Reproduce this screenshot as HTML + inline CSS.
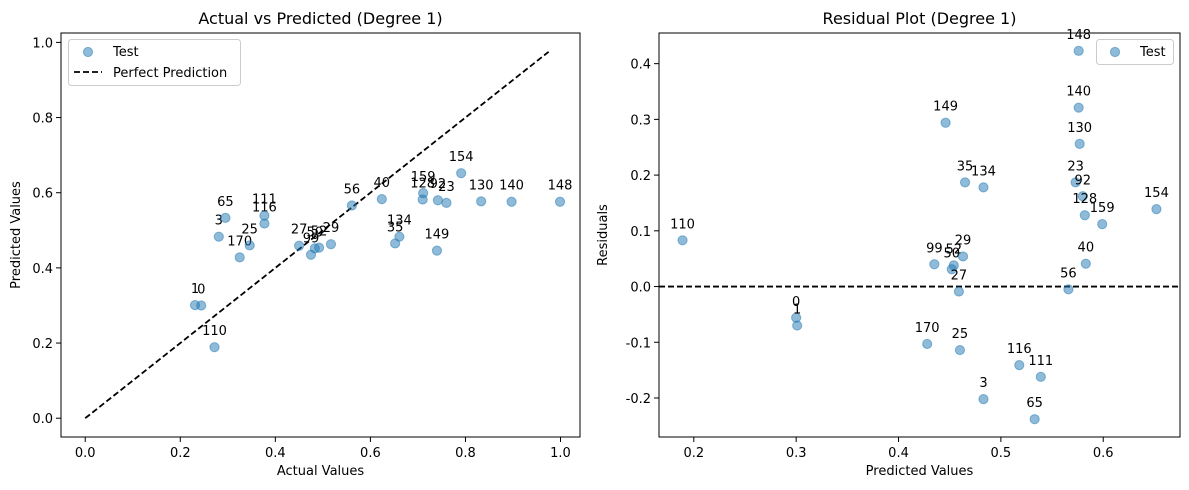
<!DOCTYPE html>
<html><head><meta charset="utf-8"><style>
body{margin:0;background:#fff;}
svg{display:block;font-family:"DejaVu Sans","Liberation Sans",sans-serif;}
</style></head><body>
<svg id="c" width="1189" height="490"></svg>
<script>
const ids=[148,140,130,149,35,134,23,92,128,159,154,99,52,50,29,40,27,56,170,25,116,111,3,65,110,0,1];
const predicted=[.576,.576,.577,.446,.465,.483,.573,.580,.582,.599,.652,.435,.454,.452,.463,.583,.459,.566,.428,.460,.518,.539,.483,.533,.189,.300,.301];
const actual=[.999,.897,.833,.740,.652,.661,.760,.742,.710,.711,.791,.475,.492,.483,.517,.624,.450,.561,.325,.346,.377,.377,.281,.295,.272,.244,.231];
const leftXTicks=[0,0.2,0.4,0.6,0.8,1.0];
const leftYTicks=[0,0.2,0.4,0.6,0.8,1.0];
const rightXTicks=[0.2,0.3,0.4,0.5,0.6];
const rightYTicks=[-0.2,-0.1,0,0.1,0.2,0.3,0.4];
const lineMax=0.975;

const svg=document.getElementById('c');
const NS='http://www.w3.org/2000/svg';
function mk(tag,at,parent){const e=document.createElementNS(NS,tag);for(const k in at)e.setAttribute(k,at[k]);(parent||svg).appendChild(e);return e;}
function lin(d0,d1,r0,r1){return v=>r0+(v-d0)*(r1-r0)/(d1-d0);}

function axes(prefix,L,R,T,B,xd,yd,xt,yt,xfmt,yfmt,title,xl,yl,ylx){
  const g=mk('g',{});
  
  
  const x=lin(xd[0],xd[1],L,R),y=lin(yd[0],yd[1],B,T);
  xt.forEach(v=>{const px=x(v);
    const t=mk('line',{x1:px,x2:px,y1:B,y2:B+5,stroke:'#000','stroke-width':1},g);
    
    const l=mk('text',{x:px,y:B+20,'text-anchor':'middle','font-size':13},g);l.textContent=xfmt(v);
    });
  yt.forEach(v=>{const py=y(v);
    const t=mk('line',{x1:L-5,x2:L,y1:py,y2:py,stroke:'#000','stroke-width':1},g);
    
    const l=mk('text',{x:L-8,y:py+5,'text-anchor':'end','font-size':13},g);l.textContent=yfmt(v);
    });
  const tt=mk('text',{x:(L+R)/2,y:T-9,'text-anchor':'middle','font-size':16},g);tt.textContent=title;
  
  const xa=mk('text',{x:(L+R)/2,y:B+38,'text-anchor':'middle','font-size':13},g);xa.textContent=xl;
  
  const ya=mk('text',{x:ylx,y:(T+B)/2,'text-anchor':'middle','font-size':13,transform:`rotate(-90 ${ylx} ${(T+B)/2})`},g);ya.textContent=yl;
  
  return {x,y,g};
}
function frame(L,R,T,B,name){const f=mk('rect',{x:L,y:T,width:R-L,height:B-T,fill:'none',stroke:'#000','stroke-width':1});
  }
function pts(a,xs,ys,prefix){
  xs.forEach((xv,i)=>{const cx=a.x(xv),cy=a.y(ys[i]);
    const c=mk('circle',{cx,cy,r:4.6,fill:'#1f77b4','fill-opacity':0.5,stroke:'#1f77b4','stroke-opacity':0.5});
    
    const t=mk('text',{x:cx,y:cy-12,'text-anchor':'middle','font-size':13});t.textContent=ids[i];
    });
}
const f1=v=>v.toFixed(1);
// left
const A=axes('left',61,580,33,437,[-0.051,1.041],[-0.05,1.025],leftXTicks,leftYTicks,f1,f1,'Actual vs Predicted (Degree 1)','Actual Values','Predicted Values',20);
const dl=mk('line',{x1:A.x(0),y1:A.y(0),x2:A.x(lineMax),y2:A.y(lineMax),stroke:'#000','stroke-width':1.8,'stroke-dasharray':'6,3'});

pts(A,actual,predicted,'left');
frame(61,580,33,437,'left-plot-frame');
// right
const residual=actual.map((v,i)=>v-predicted[i]);
const Bx=axes('right',659,1180,33,437,[0.166,0.675],[-0.27,0.455],rightXTicks,rightYTicks,f1,f1,'Residual Plot (Degree 1)','Predicted Values','Residuals',607);
const zl=mk('line',{x1:659,x2:1180,y1:Bx.y(0),y2:Bx.y(0),stroke:'#000','stroke-width':1.8,'stroke-dasharray':'6,3'});

pts(Bx,predicted,residual,'right');
frame(659,1180,33,437,'right-plot-frame');
// legends
const lg=mk('g',{});

mk('rect',{x:68.5,y:39.5,width:172,height:46,rx:3,fill:'#fff','fill-opacity':0.8,stroke:'#ccc'},lg);
mk('circle',{cx:88,cy:52,r:4.6,fill:'#1f77b4','fill-opacity':0.5,stroke:'#1f77b4','stroke-opacity':0.5},lg);
const t1=mk('text',{x:113,y:56,'font-size':13},lg);t1.textContent='Test';
mk('line',{x1:74,x2:102,y1:72,y2:72,stroke:'#000','stroke-width':1.8,'stroke-dasharray':'6,3'},lg);
const t2=mk('text',{x:113,y:77,'font-size':13},lg);t2.textContent='Perfect Prediction';
const rg=mk('g',{});

mk('rect',{x:1096.5,y:39.5,width:77,height:25,rx:3,fill:'#fff','fill-opacity':0.8,stroke:'#ccc'},rg);
mk('circle',{cx:1115,cy:52,r:4.6,fill:'#1f77b4','fill-opacity':0.5,stroke:'#1f77b4','stroke-opacity':0.5},rg);
const t3=mk('text',{x:1140,y:56,'font-size':13},rg);t3.textContent='Test';
</script>
</body></html>
